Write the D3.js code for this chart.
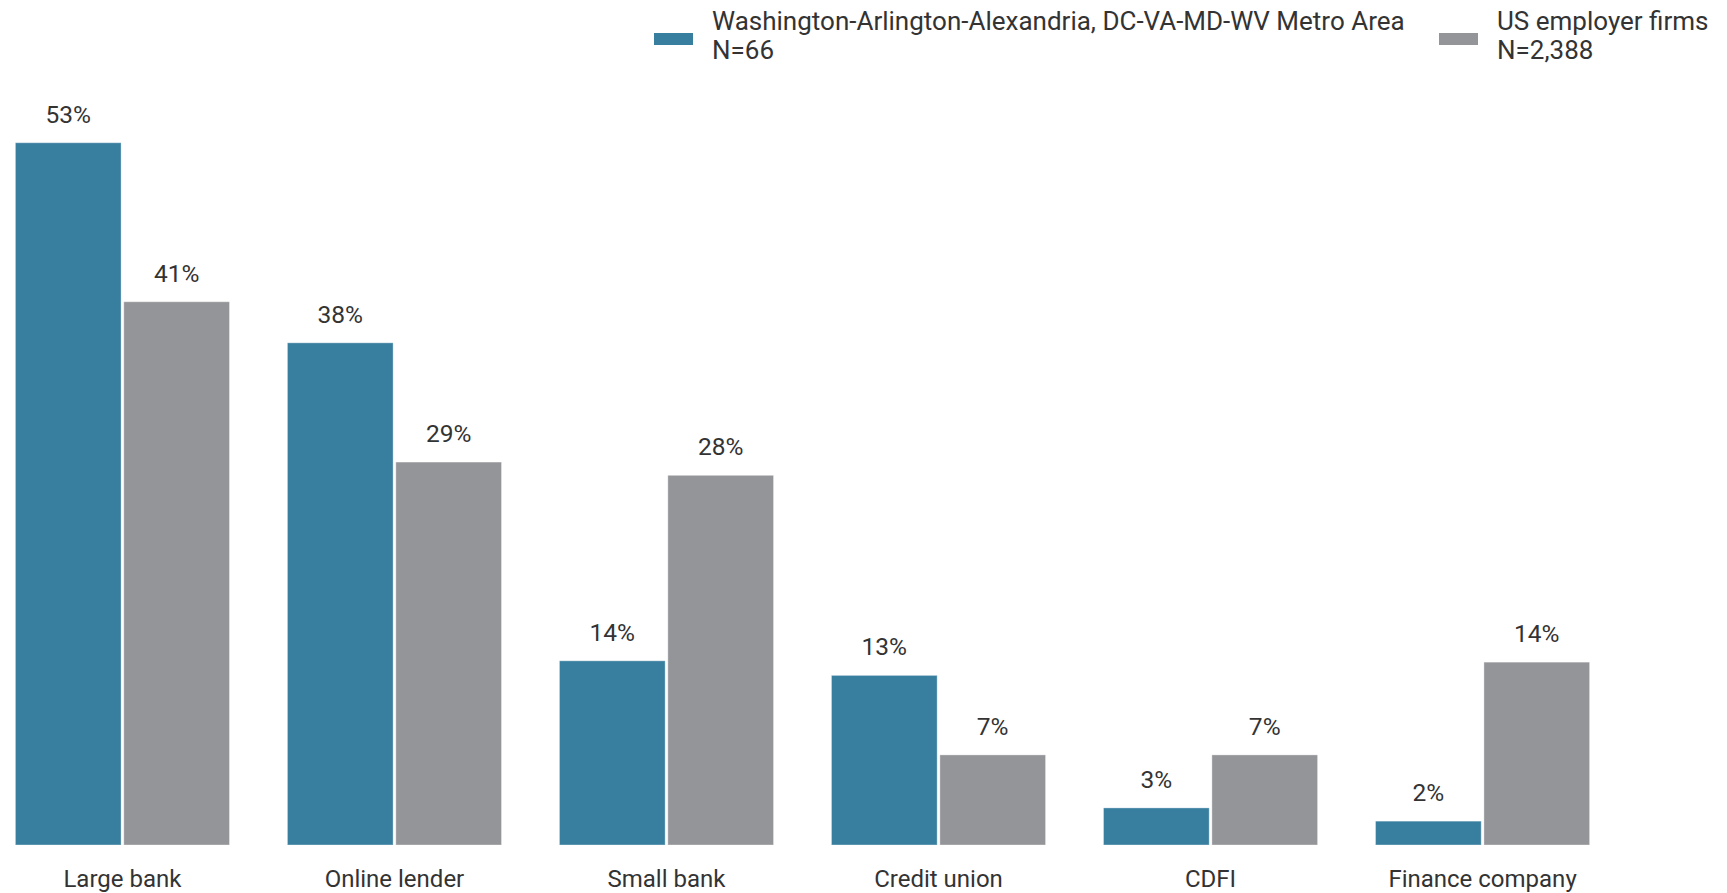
<!DOCTYPE html>
<html>
<head>
<meta charset="utf-8">
<script src="https://cdn.jsdelivr.net/npm/d3@7"></script>
<style>
    html, body { margin: 0; padding: 0; background: #fff; }
    svg { display: block; font-family: Roboto, "Noto Sans", sans-serif; }
</style>
</head>
<body>
<div id="chart"></div>
<script>
// Lender categories and share of firms applying (%)
const categories = ['Large bank', 'Online lender', 'Small bank', 'Credit union', 'CDFI', 'Finance company'];
const metroValues = [53, 37.9, 13.9, 12.8, 2.8, 1.8];
const usValues = [41, 28.9, 27.9, 6.8, 6.8, 13.8];

const seriesNames = ['Washington-Arlington-Alexandria, DC-VA-MD-WV Metro Area', 'US employer firms'];
const seriesN = ['N=66', 'N=2,388'];

const COLORS = { metro: '#387e9f', us: '#949598' };

const W = 1727, H = 893;
const baseline = 845;

const svg = d3.select('#chart')
    .append('svg')
    .attr('width', W)
    .attr('height', H);

const data = categories.map((c, i) => ({ cat: c, metro: metroValues[i], us: usValues[i] }));

const x0 = d3.scaleBand()
    .domain(categories)
    .range([0, 1605])
    .paddingInner(0.213)
    .paddingOuter(0.0566);

const x1 = d3.scaleBand()
    .domain(['metro', 'us'])
    .range([0, x0.bandwidth()])
    .paddingInner(0.025);

const y = d3.scaleLinear()
    .domain([0, 60])
    .range([baseline, 50]);

const fmt = v => d3.format('.0f')(v) + '%';

const groups = svg.selectAll('.group')
    .data(data)
    .enter()
    .append('g')
    .attr('class', 'group')
    .attr('transform', d => `translate(${x0(d.cat)},0)`);

const bars = groups.selectAll('.bar')
    .data(d => ['metro', 'us'].map(key => ({ key, value: d[key] })))
    .enter();

bars.append('rect')
    .attr('x', d => x1(d.key))
    .attr('y', d => y(d.value))
    .attr('width', x1.bandwidth())
    .attr('height', d => baseline - y(d.value))
    .attr('fill', d => COLORS[d.key])
    .attr('stroke', 'rgba(255,255,255,0.35)')
    .attr('stroke-width', 1);

bars.append('text')
    .attr('x', d => x1(d.key) + x1.bandwidth() / 2)
    .attr('y', d => y(d.value) - 20)
    .attr('text-anchor', 'middle')
    .attr('fill', '#333')
    .style('font-size', '24.5px')
    .text(d => fmt(d.value));

// category labels
svg.append('g')
    .attr('transform', `translate(0,${baseline})`)
    .call(d3.axisBottom(x0).tickSize(0).tickPadding(25))
    .call(g => g.select('.domain').remove())
    .selectAll('text')
    .attr('fill', '#333')
    .style('font-family', 'Roboto, "Noto Sans", sans-serif')
    .style('font-size', '24px');

// legend
const legendItems = [
    { key: 'metro', x: 654, name: seriesNames[0], n: seriesN[0] },
    { key: 'us', x: 1439, name: seriesNames[1], n: seriesN[1] }
];

const legend = svg.selectAll('.legend')
    .data(legendItems)
    .enter()
    .append('g')
    .attr('class', 'legend')
    .attr('transform', d => `translate(${d.x},0)`);

legend.append('rect')
    .attr('x', 0)
    .attr('y', 33)
    .attr('width', 39)
    .attr('height', 12)
    .attr('fill', d => COLORS[d.key]);

legend.append('text')
    .attr('x', 58)
    .attr('y', 30)
    .attr('fill', '#333')
    .style('font-size', '26px')
    .text(d => d.name);

legend.append('text')
    .attr('x', 58)
    .attr('y', 59)
    .attr('fill', '#333')
    .style('font-size', '26px')
    .text(d => d.n);
</script>
</body>
</html>
